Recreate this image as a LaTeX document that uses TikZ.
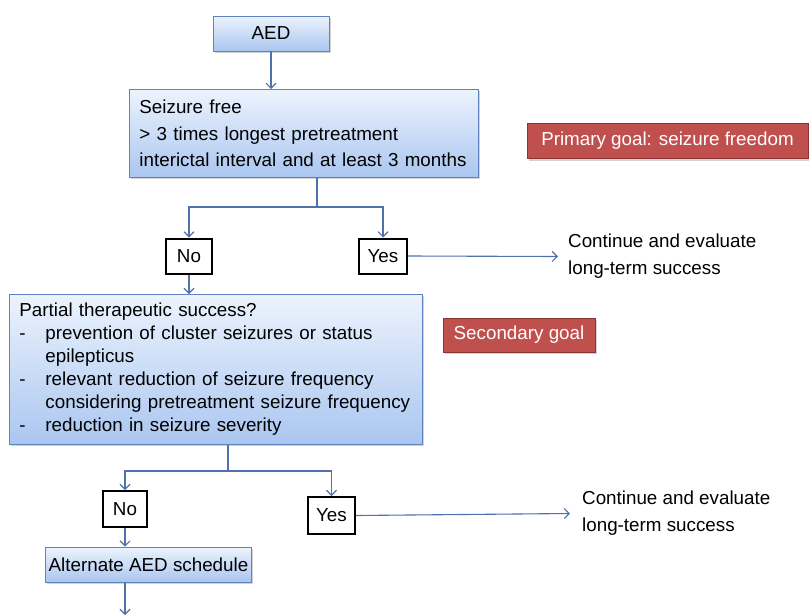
\documentclass[tikz,border=0pt]{standalone}
\usepackage{fontspec}
\setmainfont{Liberation Sans}
\usetikzlibrary{arrows.meta,positioning,shadows,calc}
\definecolor{flowline}{RGB}{79,113,172}
\definecolor{boxedge}{RGB}{96,130,190}
\definecolor{boxtop}{RGB}{236,243,253}
\definecolor{boxbottom}{RGB}{170,198,240}
\definecolor{goalfill}{RGB}{192,80,77}
\definecolor{goaledge}{RGB}{140,52,50}
\tikzset{
  stepbox/.style={draw=boxedge, line width=0.9pt, top color=boxtop, bottom color=boxbottom,
    drop shadow={opacity=0.35, shadow xshift=1.5pt, shadow yshift=-2pt},
    font=\fontsize{18.8}{26.5}\selectfont, align=left, inner xsep=10pt},
  answer/.style={draw=black, line width=2pt, fill=white, font=\fontsize{18.8}{20}\selectfont,
    minimum height=35pt, inner xsep=2pt},
  goal/.style={draw=goaledge, line width=0.8pt, fill=goalfill, text=white,
    drop shadow={opacity=0.35, shadow xshift=1.5pt, shadow yshift=-2pt},
    font=\fontsize{18.8}{20}\selectfont, minimum height=35pt},
  outcome/.style={font=\fontsize{18.8}{27}\selectfont, align=left, inner sep=0pt, anchor=west},
  flow/.style={draw=flowline, line width=1.1pt, -{Straight Barb[length=5pt,width=10pt]}},
  link/.style={draw=flowline, line width=1.1pt},
}
\begin{document}
\begin{tikzpicture}[x=1pt, y=-1pt]
\useasboundingbox (0,0) rectangle (809,616);
% first step
\node[stepbox, minimum width=116pt, minimum height=35pt, align=center] (aed) at (271,33.5) {AED};
\node[stepbox, anchor=north west, text width=329pt, minimum height=88pt] (free) at (129,89)
  {Seizure free\\> 3 times longest pretreatment\\interictal interval and at least 3 months};
\node[goal, minimum width=281pt] (primary) at (667.5,141) {Primary goal: seizure freedom};
\node[answer, minimum width=46pt] (no1) at (189,256) {No};
\node[answer, minimum width=48pt] (yes1) at (383,256) {Yes};
\node[outcome] (eval1) at (568,256.5) {Continue and evaluate\\long-term success};
\coordinate (split1) at (317,207);
% second step
\node[stepbox, anchor=north west, text width=393pt, minimum height=150pt,
  font=\fontsize{18.8}{23}\selectfont] (partial) at (9,294)
  {Partial therapeutic success?\\
   \makebox[26pt][l]{-}prevention of cluster seizures or status\\
   \hspace*{26pt}epilepticus\\
   \makebox[26pt][l]{-}relevant reduction of seizure frequency\\
   \hspace*{26pt}considering pretreatment seizure frequency\\
   \makebox[26pt][l]{-}reduction in seizure severity};
\node[goal, minimum width=152pt, minimum height=34pt] (secondary) at (519,335) {Secondary goal};
\node[answer, minimum width=44pt, minimum height=36pt] (no2) at (125,509) {No};
\node[answer, minimum width=47pt, minimum height=37pt] (yes2) at (331.5,515.5) {Yes};
\node[outcome] (eval2) at (582,513.5) {Continue and evaluate\\long-term success};
\node[stepbox, minimum width=205pt, minimum height=35pt, inner xsep=3pt, align=center] (alternate)
  at (148.5,564.5) {Alternate AED schedule};
\coordinate (split2) at (228,471);
\coordinate (next) at (125,615);
% connectors
\draw[flow] (aed) -- (aed |- free.north);
\draw[link] (split1 |- free.south) -- (split1);
\draw[flow] (split1) -| (no1);
\draw[flow] (split1) -| (yes1);
\draw[flow] (yes1.east) -- ([xshift=-10pt]eval1.west);
\draw[flow] (no1) -- (no1 |- partial.north);
\draw[link] (split2 |- partial.south) -- (split2);
\draw[flow] (split2) -| (no2);
\draw[flow] (split2) -| (yes2);
\draw[flow] (yes2.east) -- ([xshift=-12pt]eval2.west);
\draw[flow] (no2) -- (no2 |- alternate.north);
\draw[flow] (alternate.south -| no2) -- (next);
\end{tikzpicture}
\end{document}
